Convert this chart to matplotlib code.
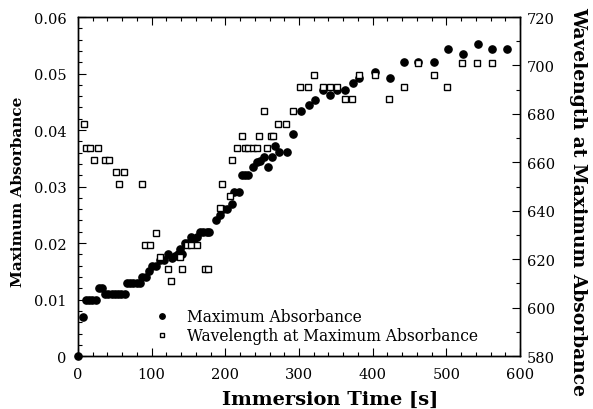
import matplotlib
matplotlib.use("Agg")
import matplotlib.pyplot as plt
from matplotlib.ticker import FuncFormatter, MultipleLocator

# Maximum absorbance vs immersion time (filled circles, left axis)
abs_time = [0, 7, 10.5, 15, 19.5, 24, 28, 32, 37, 41, 46, 50, 55, 59, 64,
            66, 71, 75, 80, 84, 86.5, 92, 96.5, 101, 105.6, 111, 117, 122,
            127, 132, 136, 138.6, 141, 145, 150, 153.5, 158, 161, 166, 170,
            175, 178, 187, 193, 197, 202, 209, 212, 218, 222, 227, 231, 237,
            243, 247, 252.7, 257.7, 263, 267.6, 273, 283.5, 292.5, 302.6,
            313, 322, 333, 342, 352, 362, 373, 382, 402.6, 423, 443, 462,
            483, 502, 522, 542.5, 562.5, 583]
abs_value = [0.0, 0.007, 0.010, 0.010, 0.010, 0.010, 0.012, 0.012, 0.011,
             0.011, 0.011, 0.011, 0.011, 0.011, 0.011, 0.013, 0.013, 0.013,
             0.013, 0.013, 0.014, 0.014, 0.015, 0.016, 0.016, 0.017, 0.017,
             0.018, 0.0173, 0.0178, 0.018, 0.019, 0.018, 0.020, 0.020, 0.021,
             0.0207, 0.021, 0.022, 0.022, 0.022, 0.022, 0.024, 0.025, 0.026,
             0.026, 0.027, 0.029, 0.029, 0.032, 0.032, 0.032, 0.0334, 0.0343,
             0.0345, 0.0353, 0.0334, 0.0353, 0.0372, 0.0362, 0.0362, 0.0393,
             0.0434, 0.0444, 0.0453, 0.0471, 0.0462, 0.0471, 0.0471, 0.0483,
             0.0493, 0.0502, 0.0493, 0.0521, 0.0521, 0.0521, 0.0543, 0.0534,
             0.0552, 0.0543, 0.0543]

# Wavelength at maximum absorbance (open squares, right axis)
wl_time = [8, 11, 16, 27.6, 22, 36, 42, 51, 62.5, 56, 86.5, 106, 91, 98,
           111, 122, 126, 141, 138, 148, 154, 161, 172.6, 176, 193, 196,
           206.5, 209.6, 216.4, 227, 231, 237, 243, 222, 246, 262, 265, 257,
           271, 282.6, 252, 292.5, 301.6, 312, 321, 332.5, 342, 352, 362,
           372, 382, 402.6, 421.6, 442, 462, 483, 501, 521, 542, 562]
wl_value = [676, 666, 666, 666, 661, 661, 661, 656, 656, 651, 651, 631, 626,
            626, 621, 616, 611, 616, 621, 626, 626, 626, 616, 616, 641, 651,
            646, 661, 666, 666, 666, 666, 666, 671, 671, 671, 671, 666, 676,
            676, 681, 681, 691, 691, 696, 691, 691, 691, 686, 686, 696, 696,
            686, 691, 701, 696, 691, 701, 701, 701]

SERIF = "DejaVu Serif"
TICK_SIZE = 10.5


def _label_font(size):
    return {"family": SERIF, "weight": "bold", "size": size}


def _style_ticks(axis, pad):
    axis.tick_params(which="both", direction="in", labelsize=TICK_SIZE,
                     top=True, width=0.8, pad=pad)
    axis.tick_params(which="major", length=6)
    axis.tick_params(which="minor", length=3)
    for lbl in axis.get_xticklabels() + axis.get_yticklabels():
        lbl.set_family(SERIF)


fig = plt.figure(figsize=(5.93, 4.10), dpi=100)
ax = fig.add_axes([0.1315, 0.129, 0.7454, 0.827])
ax2 = ax.twinx()

h1, = ax.plot(abs_time, abs_value, "o", color="black", markersize=5.2,
              clip_on=False, label="Maximum Absorbance")
h2, = ax2.plot(wl_time, wl_value, "s", color="black", markerfacecolor="white",
               markersize=4.8, markeredgewidth=1.0, clip_on=False,
               label="Wavelength at Maximum Absorbance")

ax.set_xlim(0, 600)
ax.set_ylim(0, 0.06)
ax2.set_ylim(580, 720)

ax.xaxis.set_major_locator(MultipleLocator(100))
ax.xaxis.set_minor_locator(MultipleLocator(20))
ax.yaxis.set_major_locator(MultipleLocator(0.01))
ax.yaxis.set_minor_locator(MultipleLocator(0.002))
ax.yaxis.set_major_formatter(FuncFormatter(lambda v, p: "0" if v == 0 else f"{v:.2f}"))
ax2.yaxis.set_major_locator(MultipleLocator(20))
ax2.yaxis.set_minor_locator(MultipleLocator(10))

ax.tick_params(which="both", right=False)
_style_ticks(ax, pad=8)
_style_ticks(ax2, pad=5)

for spine in list(ax.spines.values()) + list(ax2.spines.values()):
    spine.set_linewidth(1.0)

ax.set_xlabel("Immersion Time [s]", fontdict=_label_font(14))
ax.xaxis.set_label_coords(0.57, -0.1)
ax.set_ylabel("Maximum Absorbance", fontdict=_label_font(11))
ax.yaxis.set_label_coords(-0.12, 0.487)
ax2.set_ylabel("Wavelength at Maximum Absorbance", fontdict=_label_font(13.5),
               rotation=270, va="center")
ax2.yaxis.set_label_coords(1.131, 0.46)

ax2.legend([h1, h2], [h1.get_label(), h2.get_label()], loc="lower left",
           bbox_to_anchor=(0.155, 0.012), frameon=False, markerscale=0.75,
           handlelength=1.0, handletextpad=1.1, labelspacing=0.12,
           borderpad=0, prop={"family": SERIF, "size": 11.2})

fig.savefig("out.png", dpi=100)
